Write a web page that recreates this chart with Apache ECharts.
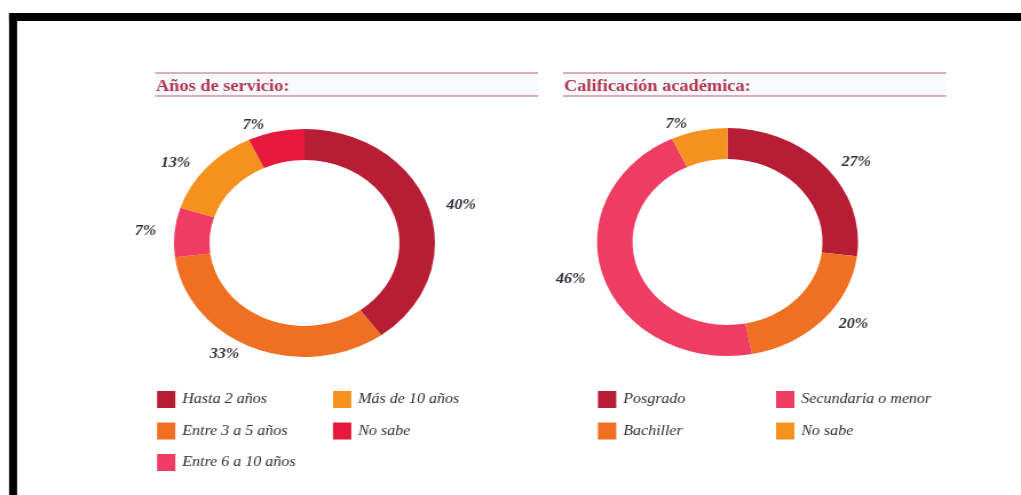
<!DOCTYPE html>
<html>
<head>
<meta charset="utf-8">
<script src="https://cdn.jsdelivr.net/npm/echarts@6/dist/echarts.min.js"></script>
<style>
  html, body { margin: 0; padding: 0; background: #ffffff; overflow: hidden; }
  #c { width: 892px; height: 495px; transform: scaleX(1.14462); transform-origin: 0 0; }
</style>
</head>
<body>
<div id="c"></div>
<script>
// ---- data ----
var title1 = 'Años de servicio:';
var title2 = 'Calificación académica:';
var cats1 = ['Hasta 2 años', 'Entre 3 a 5 años', 'Entre 6 a 10 años', 'Más de 10 años', 'No sabe'];
var vals1 = [40, 33, 7, 13, 7];
var cols1 = ['#B71E36', '#EF7023', '#EE3C63', '#F5921F', '#E6183B'];
var cats2 = ['Posgrado', 'Bachiller', 'Secundaria o menor', 'No sabe'];
var vals2 = [27, 20, 46, 7];
var cols2 = ['#B71E36', '#EF7023', '#EE3C63', '#F5921F'];

var serif = '"Liberation Serif", "DejaVu Serif", serif';
var chart = echarts.init(document.getElementById('c'));

function pieData(cats, vals, cols) {
  return cats.map(function (c, i) {
    return { name: c, value: vals[i], itemStyle: { color: cols[i] } };
  });
}
function legendData(cats, cols, idx) {
  return idx.map(function (i) {
    return { name: cats[i], itemStyle: { color: cols[i] } };
  });
}
function legend(cats, cols, idx, left) {
  return {
    orient: 'vertical', left: left, top: 391, padding: 0,
    itemWidth: 16, itemHeight: 17, itemGap: 14.5, icon: 'rect',
    selectedMode: false,
    data: legendData(cats, cols, idx),
    textStyle: { fontFamily: serif, fontStyle: 'italic', fontSize: 14, color: '#2e2e2e', padding: [1, 0, 0, 1] }
  };
}
var pieCommon = {
  type: 'pie', radius: [83, 114], startAngle: 90, clockwise: true,
  avoidLabelOverlap: false, silent: true,
  label: { show: true, position: 'outside', formatter: '{c}%', fontFamily: serif,
           fontStyle: 'italic', fontWeight: 'bold', fontSize: 14, color: '#2f2f38' },
  labelLine: { show: false, length: 7, length2: 4 },
  emphasis: { disabled: true }
};

function headerLines(x1, x2) {
  return [
    { type: 'rect', shape: { x: x1, y: 73, width: x2 - x1, height: 23 }, style: { fill: '#F7FAFC' } },
    { type: 'line', shape: { x1: x1, y1: 73, x2: x2, y2: 73 }, style: { stroke: '#D5919F', lineWidth: 1.5 } },
    { type: 'line', shape: { x1: x1, y1: 96, x2: x2, y2: 96 }, style: { stroke: '#D5919F', lineWidth: 1.5 } }
  ];
}

chart.setOption({
  backgroundColor: '#ffffff',
  animation: false,
  title: [
    { text: title1, left: 136.3, top: 79, padding: 0,
      textStyle: { fontFamily: serif, fontWeight: 'bold', fontSize: 16, color: '#B3364F' } },
    { text: title2, left: 492.7, top: 79, padding: 0,
      textStyle: { fontFamily: serif, fontWeight: 'bold', fontSize: 16, color: '#B3364F' } }
  ],
  graphic: [
    { type: 'rect', shape: { x: 7.9, y: 13, width: 7, height: 482 }, style: { fill: '#000000' } },
    { type: 'rect', shape: { x: 7.9, y: 13, width: 884.1, height: 8 }, style: { fill: '#000000' } }
  ].concat(headerLines(135.4, 470.0)).concat(headerLines(491.9, 826.5)),
  legend: [
    legend(cats1, cols1, [0, 1, 2], 137.2),
    legend(cats1, cols1, [3, 4], 290.9),
    legend(cats2, cols2, [0, 1], 522.4),
    legend(cats2, cols2, [2, 3], 678.0)
  ],
  series: [
    Object.assign({}, pieCommon, { center: [266, 243], data: pieData(cats1, vals1, cols1) }),
    Object.assign({}, pieCommon, { center: [635.6, 242], data: pieData(cats2, vals2, cols2) })
  ]
});
</script>
</body>
</html>
